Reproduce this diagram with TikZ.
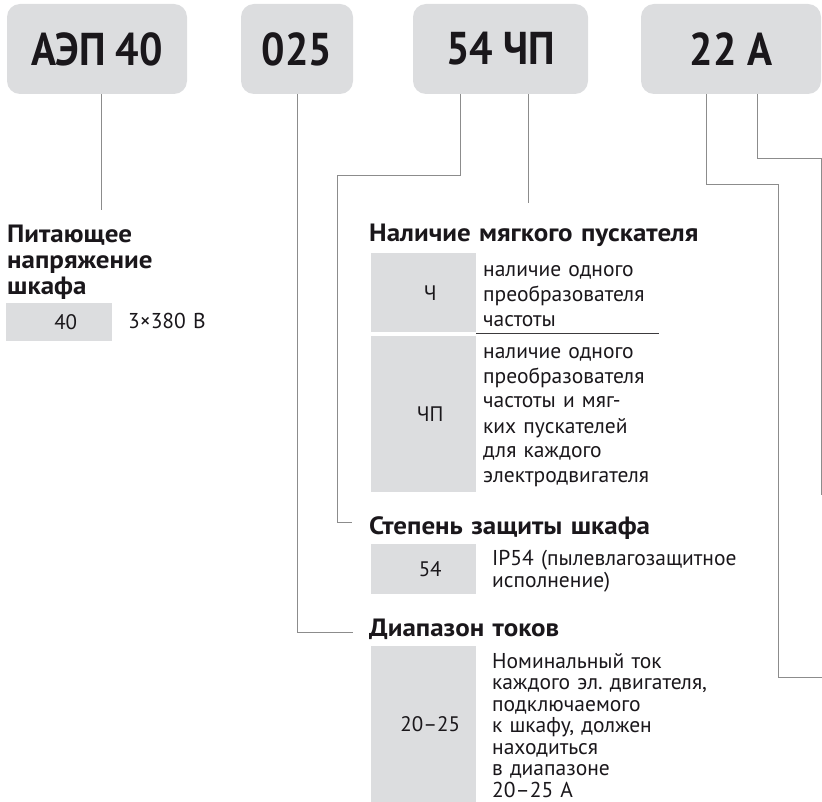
\documentclass[tikz,border=0pt]{standalone}
\usepackage{fontspec}
\setmainfont{PT Sans}
\newfontfamily\codefont{PT Sans}[FakeStretch=0.9]
\newfontfamily\headfont{PT Sans}[FakeStretch=1.08]
\usepackage{tikz}
\definecolor{boxgray}{RGB}{220,221,223}
\definecolor{linegray}{RGB}{140,140,140}
\definecolor{ink}{RGB}{26,23,27}
\tikzstyle{code} = [rectangle, rounded corners=13pt, fill=boxgray, minimum height=90pt, text=ink, font=\codefont\fontsize{46}{46}\selectfont\bfseries]
\tikzstyle{heading} = [anchor=base west, inner sep=0pt, text width=360pt, align=left, text=ink, font=\headfont\fontsize{25}{26}\selectfont\bfseries]
\tikzstyle{cell} = [rectangle, anchor=north west, fill=boxgray, inner sep=0pt, minimum width=105pt, text=ink, font=\fontsize{21}{21}\selectfont, execute at begin node=\hspace*{13pt}]
\tikzstyle{desc} = [anchor=base west, inner sep=0pt, text width=320pt, align=left, text=ink, font=\fontsize{21.5}{25}\selectfont]
\tikzstyle{link} = [linegray, line width=0.9pt]
\tikzstyle{rule} = [ink!85, line width=1pt]
\frenchspacing

\begin{document}
\begin{tikzpicture}[x=1pt, y=-1pt]
    \useasboundingbox (0,0) rectangle (822,802);
    % code boxes
    \node (code_aep) [code, minimum width=180pt] at (97,49) {АЭП 40};
    \node (code_range) [code, minimum width=112pt] at (297,49) {025};
    \node (code_ip) [code, minimum width=175pt] at (500.5,49) {54 ЧП};
    \node (code_amp) [code, minimum width=180pt] at (731,49) {22 А};
    % supply voltage
    \node (head_supply) [heading] at (7,243) {Питающее\\напряжение\\шкафа};
    \node (cell_40) [cell, minimum width=106pt, minimum height=38pt] at (6,303) {40};
    \node (desc_40) [desc] at (128,329) {3×380 В};
    % soft starter
    \node (head_soft) [heading] at (369,242) {Наличие мягкого пускателя};
    \node (cell_ch) [cell, minimum height=79pt] at (371,253) {Ч};
    \node (desc_ch) [desc] at (483,277) {наличие одного\\преобразователя\\частоты};
    \node (cell_chp) [cell, minimum height=156pt] at (371,336) {ЧП};
    \node (desc_chp) [desc] at (483,358) {наличие одного\\преобразователя\\частоты и мяг-\\ких пускателей\\для каждого\\электродвигателя};
    % protection
    \node (head_ip) [heading] at (369,534) {Степень защиты шкафа};
    \node (cell_54) [cell, minimum height=50pt] at (371,544) {54};
    \node (desc_54) [desc, font=\fontsize{21.5}{22.5}\selectfont] at (492,565) {IP54 (пылевлагозащитное\\исполнение)};
    % current range
    \node (head_range) [heading] at (369,636) {Диапазон токов};
    \node (cell_2025) [cell, minimum height=156pt] at (371,646) {20–25};
    \node (desc_2025) [desc, font=\fontsize{21.5}{21.5}\selectfont] at (492,668) {Номинальный ток\\каждого эл. двигателя,\\подключаемого\\к шкафу, должен\\находиться\\в диапазоне\\20–25 А};
    \draw [rule] ([yshift=-1.5pt]cell_ch.south east) -- ++(183,0);
    % connectors
    \coordinate (end_supply) at (101,210);
    \coordinate (end_range) at (353,632);
    \coordinate (end_ip) at (352,522);
    \coordinate (end_soft) at (528,203);
    \coordinate (end_cur) at (822,677);
    \coordinate (end_type) at (821,495);
    \draw [link] ([xshift=4pt]code_aep.south) -- (end_supply);
    \draw [link] (code_range.south) |- (end_range);
    \draw [link] ([xshift=-40.5pt]code_ip.south) |- (337,175) |- (end_ip);
    \draw [link] ([xshift=27.5pt]code_ip.south) -- (end_soft);
    \draw [link] ([xshift=-25pt]code_amp.south) -- ++(0,90) -| (778,677) -- (end_cur);
    \draw [link] ([xshift=26pt]code_amp.south) -- ++(0,64) -| (end_type);
\end{tikzpicture}
\end{document}
